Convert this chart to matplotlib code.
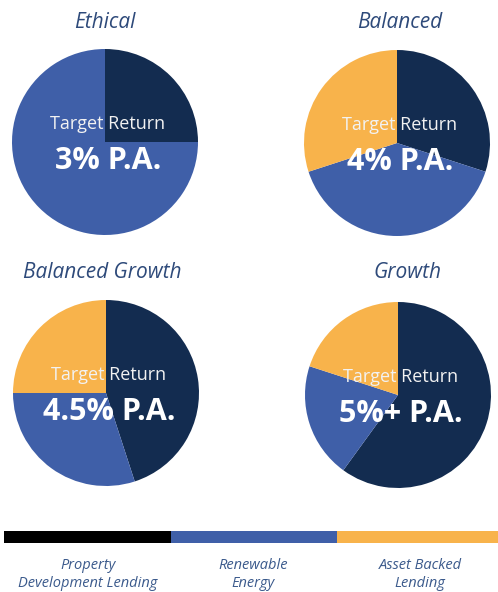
import matplotlib
matplotlib.use("Agg")
import matplotlib.pyplot as plt
from matplotlib.patches import Rectangle

categories = ["Property\nDevelopment Lending", "Renewable\nEnergy", "Asset Backed\nLending"]
portfolios = ["Ethical", "Balanced", "Balanced Growth", "Growth"]
ethical = [25, 75, 0]
balanced = [30, 40, 30]
balanced_growth = [45, 30, 25]
growth = [60, 20, 20]
returns = ["3% P.A.", "4% P.A.", "4.5% P.A.", "5%+ P.A."]

pie_colors = ["#132c50", "#3f5fa8", "#f8b34b"]
legend_colors = ["#000000", "#3f5fa8", "#f8b34b"]
title_color = "#2e4a7a"

W, H = 498, 592
fig = plt.figure(figsize=(W / 100, H / 100), dpi=100)
ax = fig.add_axes([0, 0, 1, 1])

def Y(y):
    return H - y

layout = [
    # (values, center x, center y, title x, title y)
    (ethical, 105, 142, 105, 22),
    (balanced, 397, 143, 400, 22),
    (balanced_growth, 106, 393, 102, 272),
    (growth, 398, 395, 407, 272),
]
R = 93
FONT = "Open Sans"

for (vals, cx, cy, tx, ty), name, ret in zip(layout, portfolios, returns):
    ax.pie(vals, colors=pie_colors, startangle=90, counterclock=False,
           center=(cx, Y(cy)), radius=R, wedgeprops=dict(linewidth=0))
    ax.text(tx, Y(ty), name, ha="center", va="center", fontsize=15,
            style="italic", color=title_color, family=FONT)
    ax.text(cx + 3, Y(cy - 18), "Target Return", ha="center", va="center",
            fontsize=13, color="#f2f2f2", family=FONT)
    ax.text(cx + 3, Y(cy + 19), ret, ha="center", va="center",
            fontsize=22, fontweight="bold", color="white", family=FONT)

# legend bar
edges = [4, 171, 337, 498]
centers = [88, 253, 420]
for i, (cat, col) in enumerate(zip(categories, legend_colors)):
    ax.add_patch(Rectangle((edges[i], Y(543)), edges[i + 1] - edges[i], 12,
                           facecolor=col, edgecolor="none"))
    ax.text(centers[i], Y(591), cat, ha="center", va="bottom", fontsize=10.5,
            style="italic", color="#3b5a8c", family=FONT, linespacing=1.25)

ax.set_xlim(0, W)
ax.set_ylim(0, H)
ax.set_aspect("equal")
ax.axis("off")
fig.savefig("out.png", dpi=100)
